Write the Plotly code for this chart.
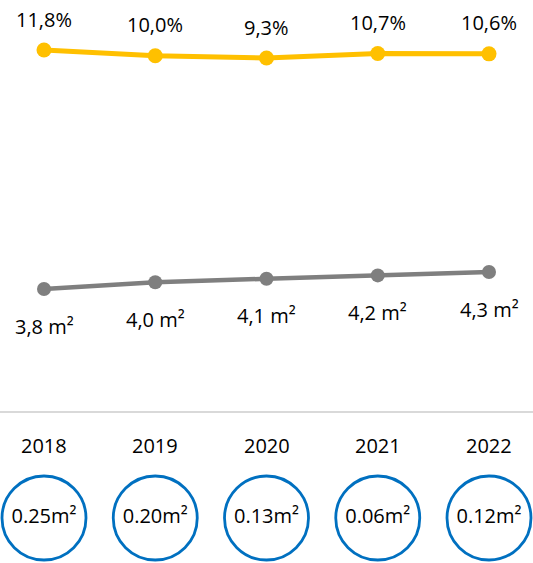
import plotly.graph_objects as go

years = ["2018", "2019", "2020", "2021", "2022"]
share_pct = [11.8, 10.0, 9.3, 10.7, 10.6]
share_labels = ["11,8%", "10,0%", "9,3%", "10,7%", "10,6%"]
area_m2 = [3.8, 4.0, 4.1, 4.2, 4.3]
area_labels = ["3,8 m²", "4,0 m²", "4,1 m²", "4,2 m²", "4,3 m²"]
growth_labels = ["0.25m²", "0.20m²", "0.13m²", "0.06m²", "0.12m²"]

W, H = 533, 563
FONT = "Open Sans"
FS = 20
xs = list(range(len(years)))

fig = go.Figure()

# Gray line (area) on y
fig.add_trace(go.Scatter(
    x=xs, y=area_m2, mode="lines+markers", yaxis="y",
    line=dict(color="#7F7F7F", width=4.5),
    marker=dict(color="#7F7F7F", size=14),
    hoverinfo="skip", showlegend=False))

# Yellow line (share) on y2
fig.add_trace(go.Scatter(
    x=xs, y=share_pct, mode="lines+markers", yaxis="y2",
    line=dict(color="#FFC000", width=5),
    marker=dict(color="#FFC000", size=15),
    hoverinfo="skip", showlegend=False))

# Circles on y3
fig.add_trace(go.Scatter(
    x=xs, y=[0] * len(xs), mode="markers+text", yaxis="y3",
    marker=dict(symbol="circle", size=84, color="rgba(255,255,255,0)",
                line=dict(color="#0070C0", width=2.8)),
    text=growth_labels, textposition="middle center",
    textfont=dict(family=FONT, size=FS, color="#000000"),
    hoverinfo="skip", showlegend=False))

anns = []
for i in xs:
    anns.append(dict(x=i, y=share_pct[i], xref="x", yref="y2", text=share_labels[i],
                     showarrow=False, yshift=31, yanchor="middle",
                     font=dict(family=FONT, size=FS, color="#000000")))
    anns.append(dict(x=i, y=area_m2[i], xref="x", yref="y", text=area_labels[i],
                     showarrow=False, yshift=-37, yanchor="middle",
                     font=dict(family=FONT, size=FS, color="#000000")))
    anns.append(dict(x=i, y=1 - 445 / H, xref="x", yref="paper", text=years[i],
                     showarrow=False, yanchor="middle",
                     font=dict(family=FONT, size=FS, color="#000000")))

fig.update_layout(
    width=W, height=H,
    margin=dict(l=0, r=0, t=0, b=0),
    paper_bgcolor="white", plot_bgcolor="white",
    xaxis=dict(range=[-44 / 111.25, 4 + 44 / 111.25], visible=False, fixedrange=True),
    yaxis=dict(range=[3.8 - 274 / 34, 3.8 + 289 / 34], visible=False, domain=[0, 1]),
    yaxis2=dict(range=[11.8 - 513 / 3.2, 11.8 + 50 / 3.2], visible=False,
                overlaying="y", domain=[0, 1]),
    yaxis3=dict(range=[-1, 1], visible=False, anchor="x", domain=[0, 90 / H]),
    annotations=anns,
    shapes=[dict(type="line", xref="paper", yref="paper", x0=0, x1=1,
                 y0=1 - 412 / H, y1=1 - 412 / H,
                 line=dict(color="#D9D9D9", width=2))],
)

fig.write_html("out.html", config={"displayModeBar": False},
               post_script="document.body.style.margin='0';document.body.style.overflow='hidden';")
